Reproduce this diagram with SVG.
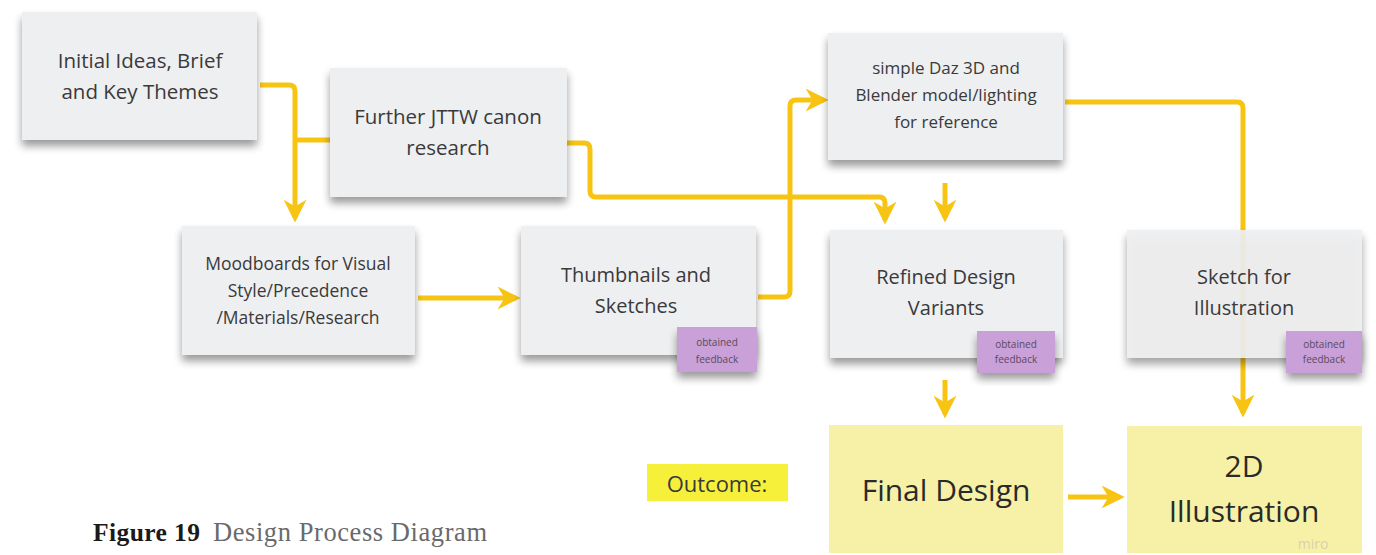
<svg xmlns="http://www.w3.org/2000/svg" width="1376" height="555" viewBox="0 0 1376 555">
<style>
.card{fill:#eeeff1}
.note{fill:#f6f1a6}
.fb{fill:#c9a0d8}
.t{font-family:"Open Sans","Liberation Sans",sans-serif;fill:#3a3a3a;text-anchor:middle}
.fbt{font-family:"Open Sans","Liberation Sans",sans-serif;fill:#5a4a60;font-size:10px;text-anchor:middle}
.c{fill:none;stroke:#f8c414;stroke-width:5;stroke-linejoin:round;stroke-linecap:butt}
</style>
<defs>
<filter id="sh" x="-10%" y="-10%" width="120%" height="140%">
<feGaussianBlur in="SourceAlpha" stdDeviation="4"/>
<feOffset dx="0" dy="6"/>
<feComponentTransfer><feFuncA type="linear" slope="0.4"/></feComponentTransfer>
<feMerge><feMergeNode/><feMergeNode in="SourceGraphic"/></feMerge>
</filter>
<marker id="a" viewBox="0 0 10 10" refX="8" refY="5" markerWidth="4.6" markerHeight="4.6" orient="auto">
<path d="M0,0 L10,5 L0,10 L3,5 Z" fill="#f8c414"/>
</marker>
</defs>
<rect width="1376" height="555" fill="#ffffff"/>

<g id="connectors">
<path class="c" d="M260,85 H289 Q295,85 295,91 V218" marker-end="url(#a)"/>
<path class="c" d="M330,140 H295"/>
<path class="c" d="M567,143 H584 Q590,143 590,149 V191 Q590,197 596,197 H879 Q885,197 885,203 V220" marker-end="url(#a)"/>
<path class="c" d="M758,297 H784 Q790,297 790,291 V106 Q790,100 796,100 H824" marker-end="url(#a)"/>
<path class="c" d="M418,298 H516" marker-end="url(#a)"/>
<path class="c" d="M945,183 V218" marker-end="url(#a)"/>
<path class="c" d="M1065,102 H1237 Q1243,102 1243,108 V413" marker-end="url(#a)"/>
<path class="c" d="M945,380 V414" marker-end="url(#a)"/>
<path class="c" d="M1068,497 H1120" marker-end="url(#a)"/>
</g>

<g id="n-initial">
<rect class="card" x="22" y="12" width="235" height="128" filter="url(#sh)"/>
<text class="t" x="140" y="68" font-size="20.5">Initial Ideas, Brief</text>
<text class="t" x="140" y="99" font-size="20.5">and Key Themes</text>
</g>

<g id="n-further">
<rect class="card" x="330" y="68" width="237" height="129" filter="url(#sh)"/>
<text class="t" x="448" y="124" font-size="20.5">Further JTTW canon</text>
<text class="t" x="448" y="155" font-size="20.5">research</text>
</g>

<g id="n-daz">
<rect class="card" x="828" y="33" width="235" height="127" filter="url(#sh)"/>
<text class="t" x="946" y="74" font-size="17">simple Daz 3D and</text>
<text class="t" x="946" y="101" font-size="17">Blender model/lighting</text>
<text class="t" x="946" y="128" font-size="17">for reference</text>
</g>

<g id="n-mood">
<rect class="card" x="182" y="226" width="233" height="129" filter="url(#sh)"/>
<text class="t" x="298" y="270" font-size="17.5">Moodboards for Visual</text>
<text class="t" x="298" y="297" font-size="17.5">Style/Precedence</text>
<text class="t" x="298" y="324" font-size="17.5">/Materials/Research</text>
</g>

<g id="n-thumb">
<rect class="card" x="521" y="226" width="235" height="129" filter="url(#sh)"/>
<text class="t" x="636" y="282" font-size="20">Thumbnails and</text>
<text class="t" x="636" y="313" font-size="20">Sketches</text>
<rect class="fb" x="677" y="327" width="80" height="45" filter="url(#sh)"/>
<text class="fbt" x="717" y="346">obtained</text>
<text class="fbt" x="717" y="363">feedback</text>
</g>

<g id="n-refined">
<rect class="card" x="830" y="230" width="233" height="128" filter="url(#sh)"/>
<text class="t" x="946" y="284" font-size="20">Refined Design</text>
<text class="t" x="946" y="315" font-size="20">Variants</text>
<rect class="fb" x="977" y="331" width="78" height="42" filter="url(#sh)"/>
<text class="fbt" x="1016" y="348">obtained</text>
<text class="fbt" x="1016" y="363">feedback</text>
</g>

<g id="n-sketch">
<rect class="card" x="1127" y="230" width="235" height="128" filter="url(#sh)" fill-opacity="0.9"/>
<text class="t" x="1244" y="284" font-size="20">Sketch for</text>
<text class="t" x="1244" y="315" font-size="20">Illustration</text>
<rect class="fb" x="1286" y="331" width="76" height="42" filter="url(#sh)"/>
<text class="fbt" x="1324" y="348">obtained</text>
<text class="fbt" x="1324" y="363">feedback</text>
</g>

<g id="outcome">
<rect x="647" y="464" width="141" height="37" fill="#f6f03a"/>
<text class="t" x="717" y="492" font-size="22" fill="#222">Outcome:</text>
</g>

<g id="n-final">
<rect class="note" x="829" y="425" width="234" height="128"/>
<text class="t" x="946" y="501" font-size="30" style="fill:#2a2a2a">Final Design</text>
</g>

<g id="n-2d">
<rect class="note" x="1127" y="426" width="235" height="127"/>
<text class="t" x="1244" y="477" font-size="30" style="fill:#2a2a2a">2D</text>
<text class="t" x="1244" y="522" font-size="30" style="fill:#2a2a2a">Illustration</text>
<text x="1313" y="549" font-family="Open Sans, Liberation Sans, sans-serif" font-size="14" fill="#d6d2b0" text-anchor="middle">miro</text>
</g>

<g id="caption">
<text x="93" y="541" font-family="Liberation Serif, serif" font-size="25.5" font-weight="bold" fill="#1a1a1a" textLength="107">Figure 19</text>
<text x="213" y="541" font-family="Liberation Serif, serif" font-size="26.5" fill="#6a6a6a" textLength="274">Design Process Diagram</text>
</g>
</svg>
